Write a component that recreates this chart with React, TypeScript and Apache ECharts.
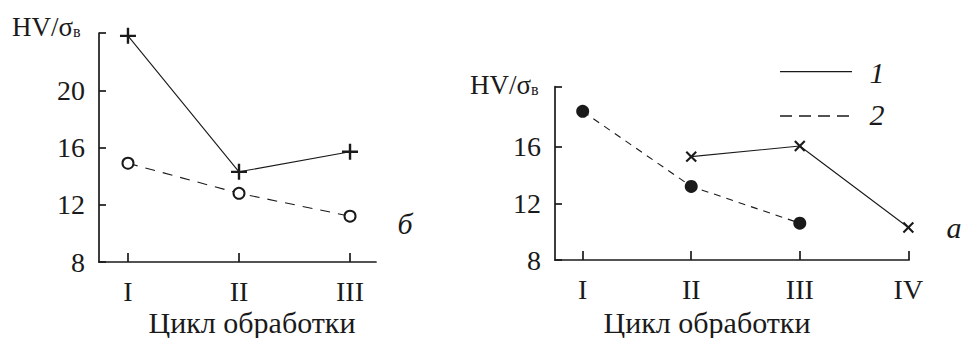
import React, { useEffect, useRef } from "react";
import * as echarts from "echarts";

const romanLeft = ["I", "II", "III"];
const romanRight = ["I", "II", "III", "IV"];
const leftSolid = [23.8, 14.3, 15.7];
const leftDashed = [14.9, 12.8, 11.2];
const rightSolidX = [2, 3, 4];
const rightSolid = [15.3, 16.05, 10.3];
const rightDashedX = [1, 2, 3];
const rightDashed = [18.5, 13.2, 10.6];
const yTicksLeft = [8, 12, 16, 20, 24];
const yLabelsLeft = [8, 12, 16, 20];
const yTicksRight = [8, 12, 16, 20.24];
const yLabelsRight = [8, 12, 16];

const INK = "#1a1a1a";
const FONT = "'Liberation Serif', 'Times New Roman', 'DejaVu Serif', serif";
const PLUS = "path://M4.25,0 h1.5 v4.25 h4.25 v1.5 h-4.25 v4.25 h-1.5 v-4.25 h-4.25 v-1.5 h4.25 z";

function App() {
  const ref = useRef<HTMLDivElement>(null);
  useEffect(() => {
    const chart = echarts.init(ref.current!, null, { renderer: "svg" });
    const axisBase = {
      axisLine: { show: true, onZero: false, lineStyle: { color: INK, width: 1.7 } },
      splitLine: { show: false },
    };
    const xAxis = (gi: number, min: number, max: number, labels: string[]) => ({
      ...axisBase,
      type: "value",
      gridIndex: gi,
      min,
      max,
      axisTick: { show: true, inside: true, length: 9, customValues: labels.map((_, i) => i + 1), lineStyle: { color: INK, width: 1.7 } },
      axisLabel: {
        customValues: labels.map((_, i) => i + 1),
        formatter: (v: number) => labels[Math.round(v) - 1] ?? "",
        color: INK,
        fontFamily: FONT,
        fontSize: 28,
        margin: 15,
      },
    });
    const yAxis = (gi: number, min: number, max: number, ticks: number[], labels: number[]) => ({
      ...axisBase,
      type: "value",
      gridIndex: gi,
      min,
      max,
      axisTick: { show: true, inside: true, length: 7, customValues: ticks, lineStyle: { color: INK, width: 1.7 } },
      axisLabel: {
        customValues: labels,
        formatter: (v: number) => String(Math.round(v)),
        color: INK,
        fontFamily: FONT,
        fontSize: 28,
        margin: 14,
      },
    });
    const pts = (xs: number[], ys: number[]) => xs.map((x, i) => [x, ys[i]]);
    const sub = {
      m: { fontFamily: FONT, fontSize: 27, fill: INK },
      s: { fontFamily: FONT, fontSize: 16, fill: INK, padding: [10, 0, 0, 0] },
    };
    const txt = (x: number, y: number, text: string, italic = false, size = 30) => ({
      type: "text",
      x,
      y,
      style: { text, fontFamily: FONT, fontStyle: italic ? "italic" : "normal", fontSize: size, fill: INK, align: "center", verticalAlign: "middle" },
    });
    chart.setOption({
      animation: false,
      backgroundColor: "#ffffff",
      grid: [
        { left: 99, top: 33, width: 277, height: 229 },
        { left: 555, top: 86.7, width: 354, height: 173.3 },
      ],
      xAxis: [
        xAxis(0, 0.739, 3.234, romanLeft),
        xAxis(1, 0.745, 4.006, romanRight),
      ],
      yAxis: [
        yAxis(0, 8, 24, yTicksLeft, yLabelsLeft),
        yAxis(1, 8, 20.24, yTicksRight, yLabelsRight),
      ],
      series: [
        {
          type: "line",
          xAxisIndex: 0,
          yAxisIndex: 0,
          data: pts([1, 2, 3], leftSolid),
          symbol: PLUS,
          symbolSize: 16,
          lineStyle: { color: INK, width: 1.1 },
          itemStyle: { color: INK },
        },
        {
          type: "line",
          xAxisIndex: 0,
          yAxisIndex: 0,
          data: pts([1, 2, 3], leftDashed),
          symbol: "emptyCircle",
          symbolSize: 11,
          lineStyle: { color: INK, width: 1.1, type: [10, 8] },
          itemStyle: { color: INK, borderWidth: 1.4 },
        },
        {
          type: "line",
          xAxisIndex: 1,
          yAxisIndex: 1,
          data: pts(rightSolidX, rightSolid),
          symbol: PLUS,
          symbolRotate: 45,
          symbolSize: 14,
          lineStyle: { color: INK, width: 1.1 },
          itemStyle: { color: INK },
        },
        {
          type: "line",
          xAxisIndex: 1,
          yAxisIndex: 1,
          data: pts(rightDashedX, rightDashed),
          symbol: "circle",
          symbolSize: 13,
          lineStyle: { color: INK, width: 1.1, type: [7, 6] },
          itemStyle: { color: INK },
        },
      ],
      graphic: [
        { type: "text", left: 12, top: 13, style: { text: "{m|HV/σ}{s|в}", rich: sub } },
        { type: "text", left: 470, top: 71, style: { text: "{m|HV/σ}{s|в}", rich: sub } },
        txt(252, 322, "Цикл обработки"),
        txt(707, 322, "Цикл обработки"),
        txt(405, 223, "б", true),
        txt(954, 227, "а", true),
        { type: "line", shape: { x1: 780, y1: 71.7, x2: 852, y2: 71.7 }, style: { stroke: INK, lineWidth: 1.3 } },
        { type: "line", shape: { x1: 780, y1: 116, x2: 852, y2: 116 }, style: { stroke: INK, lineWidth: 1.3, lineDash: [12, 7] } },
        txt(877, 72, "1", true),
        txt(877, 114, "2", true),
      ],
    });
    return () => chart.dispose();
  }, []);
  return <div ref={ref} style={{ width: 976, height: 338, position: "absolute", left: 0, top: 0 }} />;
}

export default App;
